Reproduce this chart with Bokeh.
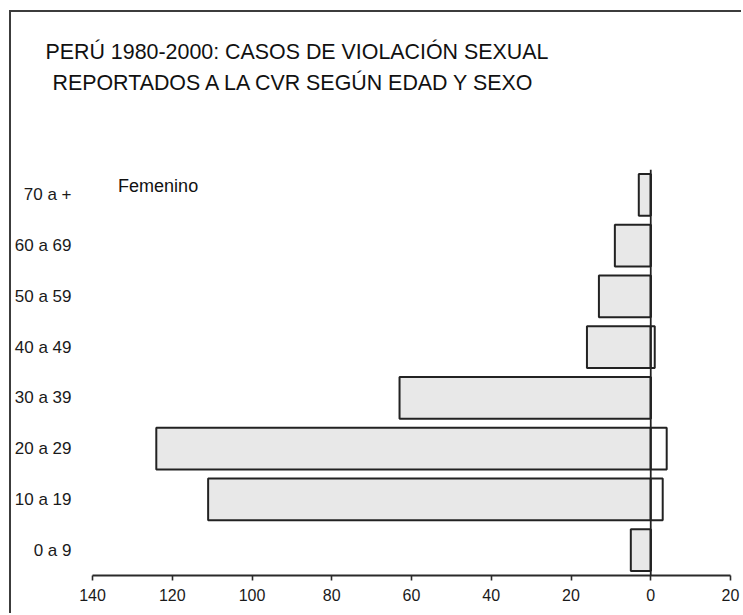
from bokeh.plotting import figure
from bokeh.models import Range1d, FactorRange, Span, Label, Title, FixedTicker, CustomJSTickFormatter
from bokeh.embed import file_html
from bokeh.resources import INLINE

age_groups = ["0 a 9", "10 a 19", "20 a 29", "30 a 39", "40 a 49", "50 a 59", "60 a 69", "70 a +"]
femenino = [5, 111, 124, 63, 16, 13, 9, 3]
masculino = [0, 3, 4, 0, 1, 0, 0, 0]
x_ticks = [-140, -120, -100, -80, -60, -40, -20, 0, 20]
title_1 = "PERÚ 1980-2000: CASOS DE VIOLACIÓN SEXUAL"
title_2 = "REPORTADOS A LA CVR SEGÚN EDAD Y SEXO"
series_label = "Femenino"

W, H = 732, 603
p = figure(width=W, height=H, y_range=FactorRange(*age_groups), x_range=Range1d(-140, 20),
           output_backend="svg", toolbar_location=None,
           min_border_left=77, min_border_right=13, min_border_top=157, min_border_bottom=40)
p.styles = {"border-left": "2px solid #3c3c3c", "border-top": "2px solid #3c3c3c",
            "margin-left": "9px", "margin-top": "10px"}
p.outline_line_color = None
p.xgrid.visible = False
p.ygrid.visible = False

p.hbar(y=age_groups, left=[-v for v in femenino], right=0, height=0.82,
       fill_color="#e8e8e8", line_color="#222222", line_width=2)
p.hbar(y=age_groups, left=0, right=masculino, height=0.82,
       fill_color="white", line_color="#222222", line_width=2)
p.add_layout(Span(location=0, dimension="height", line_color="#222222", line_width=1.8))

xa = p.xaxis[0]
xa.ticker = FixedTicker(ticks=x_ticks)
xa.formatter = CustomJSTickFormatter(code="return Math.abs(tick).toString();")
xa.axis_line_color = "#2a2a2a"
xa.axis_line_width = 2
xa.major_tick_line_color = "#2a2a2a"
xa.major_tick_line_width = 1.6
xa.major_tick_out = 5
xa.major_tick_in = 0
xa.minor_tick_line_color = None
xa.major_label_standoff = 8
xa.major_label_text_font = "Liberation Sans"
xa.major_label_text_font_size = "16px"
xa.major_label_text_color = "#1a1a1a"

ya = p.yaxis[0]
ya.axis_line_color = None
ya.major_tick_line_color = None
ya.minor_tick_line_color = None
ya.major_label_standoff = 15
ya.major_label_text_font = "Liberation Sans"
ya.major_label_text_font_size = "17px"
ya.major_label_text_color = "#1a1a1a"

# spacer panel between the plot frame and the two title lines
p.add_layout(Title(text=" ", text_font="Liberation Sans", text_font_size="21.4px",
                   standoff=47), "above")
for txt, off, so in [(title_2, -40, 4), (title_1, -47, 6)]:
    p.add_layout(Title(text=txt, align="left", offset=off, text_font="Liberation Sans",
                       text_font_size="21.4px", text_font_style="normal",
                       text_color="#111111", standoff=so), "above")

p.add_layout(Label(x=25.6, y=390, x_units="screen", y_units="screen", text=series_label,
                   text_font="Liberation Sans", text_font_size="18px",
                   text_baseline="middle", text_color="#111111"))

open("out.html", "w").write(file_html(p, INLINE))
